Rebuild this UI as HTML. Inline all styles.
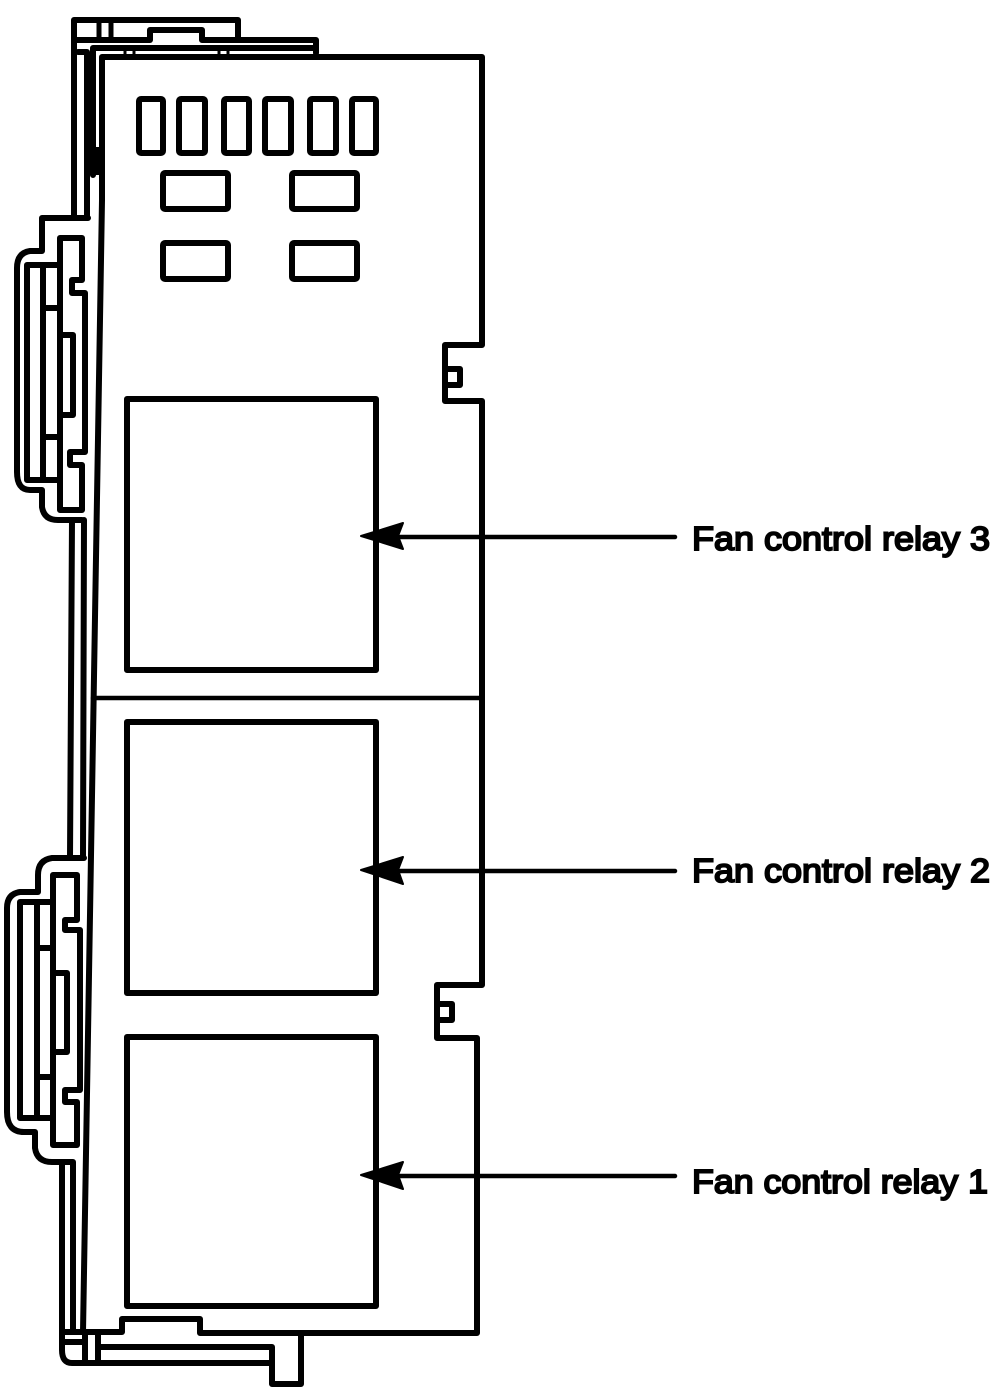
<!DOCTYPE html>
<html>
<head>
<meta charset="utf-8">
<style>
html,body{margin:0;padding:0;background:#fff;width:1000px;height:1400px;overflow:hidden}
svg{display:block;position:absolute;left:0;top:0}
text{font-family:"Liberation Sans",Arial,sans-serif;font-size:33px;fill:#000;stroke:#000;stroke-width:1.9px}
</style>
</head>
<body>
<svg width="1000" height="1400" viewBox="0 0 1000 1400" xmlns="http://www.w3.org/2000/svg">
<g fill="none" stroke="#000" stroke-width="6" stroke-linejoin="round" stroke-linecap="round">
<!-- main body -->
<path d="M102 200V57H482V345H445V401H482V985H437V1038H477V1333H200V1319H122V1332H62"/>
<path d="M102 200L83 1332"/>
<path d="M93 698H482" stroke-width="4.5"/>
<!-- top assembly -->
<path d="M74 218V20H238V38"/>
<path d="M74 40H150V30H202V40H316V53"/>
<path d="M99 20V38M111 20V40" stroke-width="5"/>
<path d="M316 48H93V175"/>
<path d="M87 218V52H78"/>
<rect x="92" y="147" width="10" height="28" fill="#000" stroke="none"/>
<path d="M125 50V55M134 50V55M219 50V55M228 50V55" stroke-width="3"/>
<!-- top small rects -->
<rect x="139" y="99" width="24" height="54" rx="2"/>
<rect x="179" y="99" width="26" height="54" rx="2"/>
<rect x="224" y="99" width="25" height="54" rx="2"/>
<rect x="265" y="99" width="26" height="54" rx="2"/>
<rect x="310" y="99" width="26" height="54" rx="2"/>
<rect x="352" y="99" width="24" height="54" rx="2"/>
<rect x="163" y="173" width="65" height="36" rx="2"/>
<rect x="292" y="173" width="65" height="36" rx="2"/>
<rect x="163" y="243" width="65" height="36" rx="2"/>
<rect x="292" y="243" width="65" height="36" rx="2"/>
<!-- relay boxes -->
<rect x="127" y="399" width="249" height="271"/>
<rect x="127" y="722" width="249" height="271"/>
<rect x="127" y="1037" width="249" height="269"/>
<!-- notch squares -->
<path d="M446 369H460V385H446"/>
<path d="M438 1004H452V1020H438"/>
<!-- upper clip -->
<path d="M88 218H42V251H30Q17 253 17 268V472Q17 490 30 490H42V507Q44 520 58 520H82"/>
<path d="M60 238H82V280H72V293H85V452H70V465H82V510H60Z"/>
<path d="M58 265H27V480H58"/>
<path d="M43 265V480M43 308H58M43 437H58"/>
<path d="M60 335H73V415H60"/>
<!-- middle verticals -->
<path d="M72 520L70 858M84 520L83 858"/>
<!-- lower clip -->
<path d="M84 858H52Q38 860 38 875V892H20Q7 894 7 908V1112Q7 1132 24 1132H35V1148Q37 1162 52 1162H73V1180"/>
<path d="M53 875H77V920H65V930H80V1090H65V1102H77V1145H53Z"/>
<path d="M53 902H20V1118H53"/>
<path d="M37 902V1118M37 948H53M37 1077H53"/>
<path d="M53 973H67V1052H53"/>
<!-- bottom verticals -->
<path d="M62 1162V1350Q62 1363 72 1363H272"/>
<path d="M73 1180V1332"/>
<path d="M62 1342H82M85 1332V1363M98 1332V1363"/>
<path d="M100 1347H272M272 1347V1384H301V1333"/>
<!-- leaders -->
<path d="M400 537H675M400 871H675M400 1176H675" stroke-width="4.5"/>
</g>
<!-- arrowheads -->
<path d="M361 536L403 523L398 536L403 549Z M361 870L403 857L398 870L403 884Z M361 1175L403 1162L398 1175L403 1189Z" fill="#000" stroke="#000" stroke-width="2" stroke-linejoin="round"/>
<text x="692" y="550" textLength="298" lengthAdjust="spacingAndGlyphs">Fan control relay 3</text>
<text x="692" y="882" textLength="298" lengthAdjust="spacingAndGlyphs">Fan control relay 2</text>
<text x="692" y="1193" textLength="296" lengthAdjust="spacingAndGlyphs">Fan control relay 1</text>
</svg>
</body>
</html>
